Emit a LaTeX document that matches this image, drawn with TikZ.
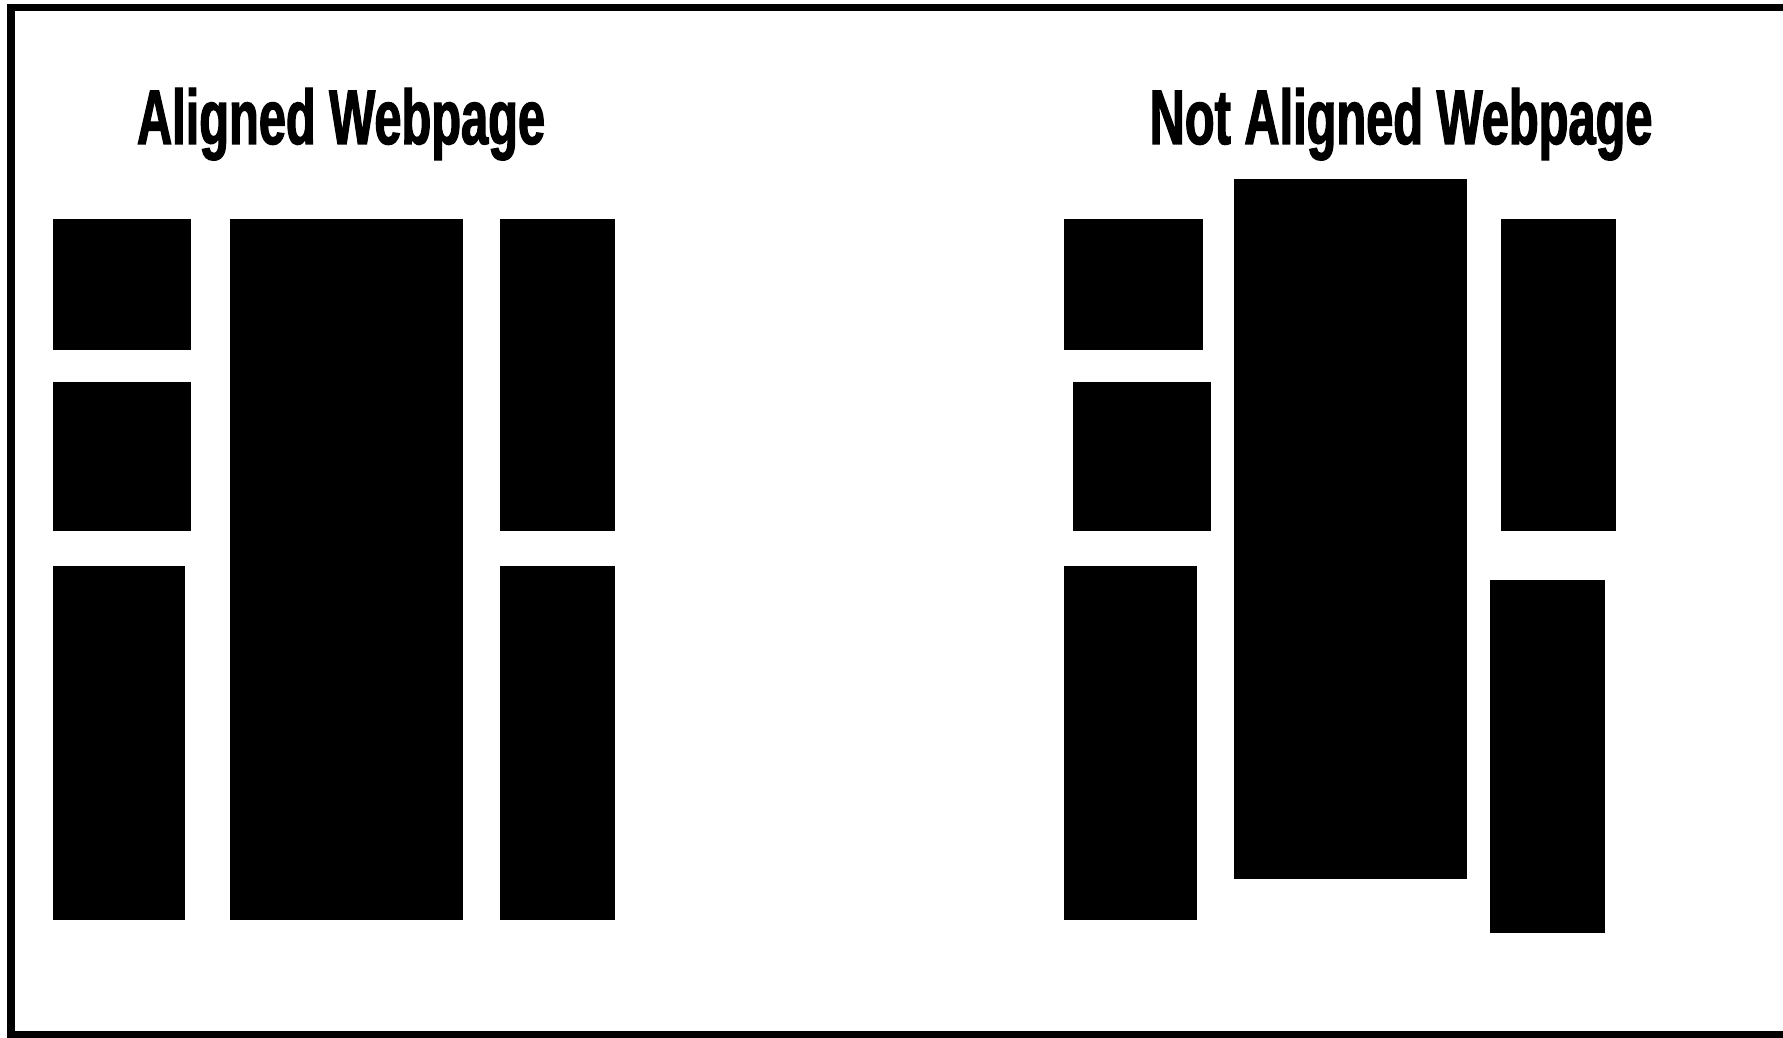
\documentclass[tikz,border=0pt]{standalone}
\usepackage{fontspec}
\usepackage{tikz}
\newfontfamily\titlefont[FakeStretch=0.63,FakeBold=1.6]{Liberation Sans}
\begin{document}
\begin{tikzpicture}[
  x=0.01cm,y=-0.01cm,
  frame/.style={draw=black,line width=0.07cm},
  block/.style={fill=black},
  heading/.style={anchor=base,inner sep=0pt,font=\titlefont\bfseries\fontsize{22}{26}\selectfont}
]
\useasboundingbox (0,0) rectangle (1783,1037);
\draw[frame] (1800,7.5) -- (11,7.5) -- (11,1034) -- (1800,1034);
\node[heading] (titleA) at (341,144) {Aligned Webpage};
\node[heading] (titleB) at (1401,144) {Not Aligned Webpage};
% aligned columns
\path[block] (53,219) rectangle (191,350);
\path[block] (53,382) rectangle (191,531);
\path[block] (53,566) rectangle (185,920);
\path[block] (230,219) rectangle (463,920);
\path[block] (500,219) rectangle (615,531);
\path[block] (500,566) rectangle (615,920);
% shifted columns
\path[block] (1064,219) rectangle (1203,350);
\path[block] (1073,382) rectangle (1211,531);
\path[block] (1064,566) rectangle (1197,920);
\path[block] (1234,179) rectangle (1467,879);
\path[block] (1501,219) rectangle (1616,531);
\path[block] (1490,580) rectangle (1605,933);
\end{tikzpicture}
\end{document}
